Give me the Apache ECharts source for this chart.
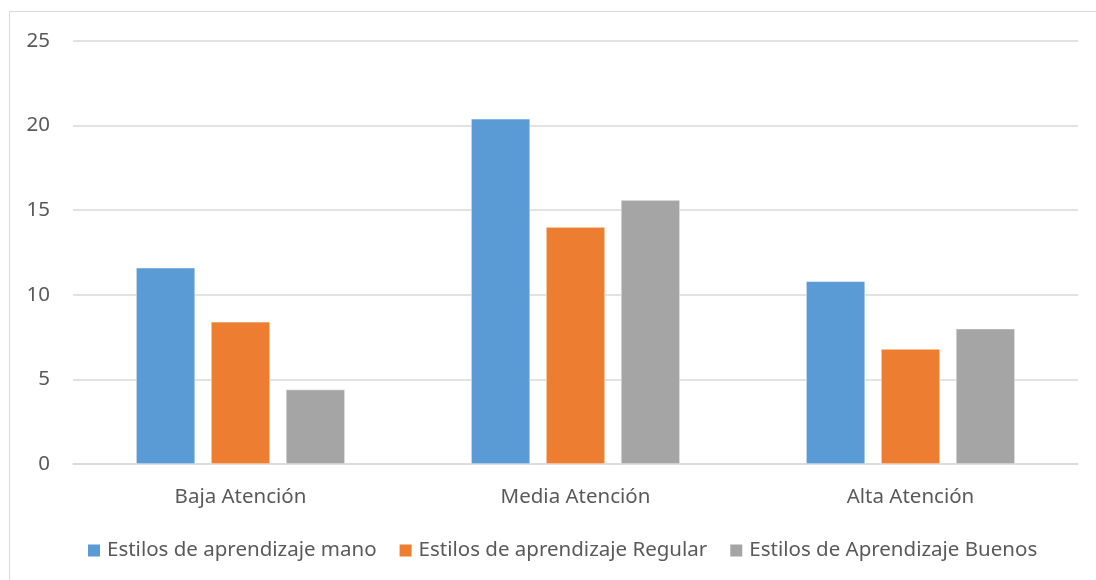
<!DOCTYPE html>
<html>
<head>
<meta charset="utf-8">
<script src="https://cdn.jsdelivr.net/npm/echarts@6/dist/echarts.min.js"></script>
<style>html,body{margin:0;padding:0;background:#fff}#c{width:1096px;height:580px}</style>
</head>
<body>
<div id="c"></div>
<script>
const categories = ['Baja Atención', 'Media Atención', 'Alta Atención'];
const seriesNames = ['Estilos de aprendizaje mano', 'Estilos de aprendizaje Regular', 'Estilos de Aprendizaje Buenos'];
const manoValues = [11.6, 20.4, 10.8];
const regularValues = [8.4, 14, 6.8];
const buenosValues = [4.4, 15.6, 8];
const colors = ['#5B9BD5', '#ED7D31', '#A5A5A5'];

const font = 'Noto Sans';
const chart = echarts.init(document.getElementById('c'));
const mk = (name, data, color) => ({
  name, type: 'bar', data, barWidth: 59, barGap: '27%',
  itemStyle: { color, borderColor: '#ffffff', borderWidth: 0.5 }
});
chart.setOption({
  animation: false,
  graphic: [{ type: 'rect', shape: { x: 9.5, y: 11.5, width: 1200, height: 1000 }, style: { fill: 'none', stroke: '#d9d9d9', lineWidth: 1 }, silent: true }],
  textStyle: { fontFamily: font },
  grid: { left: 73, right: 18, top: 41, bottom: 116 },
  legend: {
    top: 540, left: 86, itemWidth: 14, itemHeight: 14, itemGap: 21,
    icon: 'rect', padding: 0,
    textStyle: { color: '#595959', fontSize: 20.5, lineHeight: 20, fontFamily: font, padding: [0, 0, 0, 1] },
    data: seriesNames
  },
  xAxis: {
    type: 'category', data: categories,
    axisLine: { lineStyle: { color: '#d9d9d9', width: 1.5 } },
    axisTick: { show: false },
    axisLabel: { color: '#595959', fontSize: 20.5, lineHeight: 20, margin: 23, fontFamily: font }
  },
  yAxis: {
    type: 'value', min: 0, max: 25, interval: 5,
    axisLine: { show: false }, axisTick: { show: false },
    splitLine: { lineStyle: { color: '#d9d9d9', width: 1.5 } },
    axisLabel: { color: '#595959', fontSize: 20.5, margin: 23, fontFamily: font }
  },
  series: [
    mk(seriesNames[0], manoValues, colors[0]),
    mk(seriesNames[1], regularValues, colors[1]),
    mk(seriesNames[2], buenosValues, colors[2])
  ]
});
</script>
</body>
</html>
